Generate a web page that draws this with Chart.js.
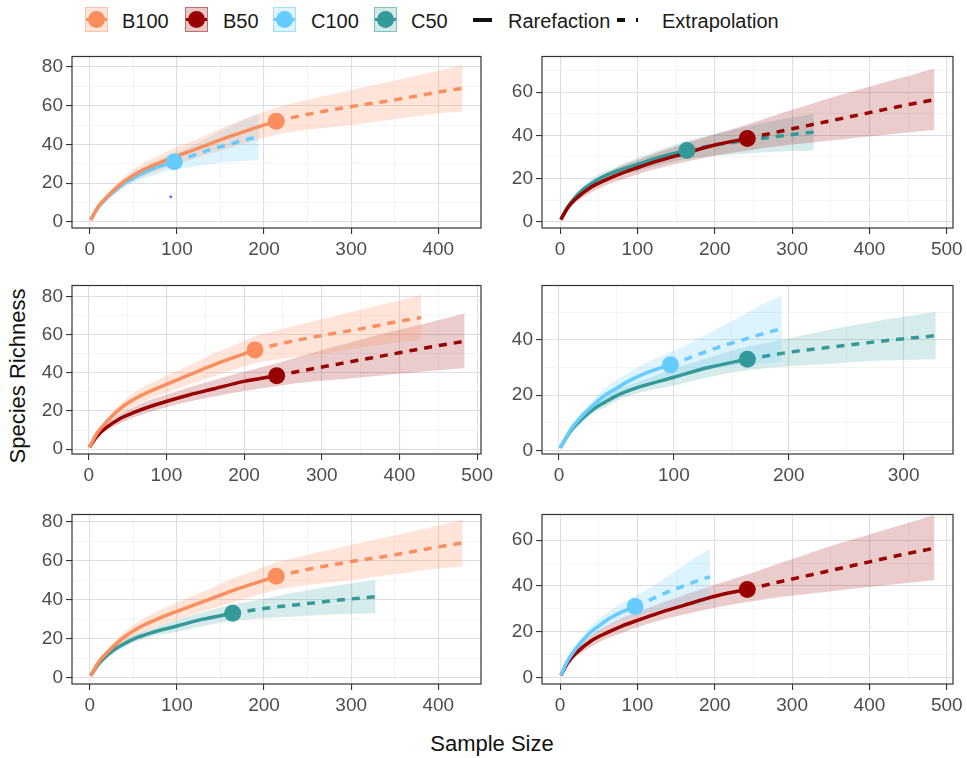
<!DOCTYPE html>
<html lang="en">
<head>
<meta charset="UTF-8" />
<title>Species Richness vs Sample Size</title>
<script src="https://cdn.jsdelivr.net/npm/chart.js"></script>
<style>
  body { margin: 0; background: #fff; font-family: Arial, "Liberation Sans", sans-serif; }
  #wrap { position: relative; width: 967px; height: 758px; overflow: hidden; background: #fff; }
  #wrap canvas { position: absolute; }
  .sw { position: absolute; top: 7px; width: 21px; height: 23px; border: 1.5px solid; }
  .sw i { position: absolute; left: 0; right: 0; top: 10px; height: 3px; }
  .sw b { position: absolute; left: 2px; top: 3px; width: 17px; height: 17px; border-radius: 50%; }
  .lt { position: absolute; top: 9px; font-size: 20px; line-height: 24px; color: #1a1a1a; }
  .title { position: absolute; font-size: 22px; color: #111; white-space: nowrap; }
</style>
</head>
<body>
<div id="wrap">
  <div class="sw" style="left:85px;border-color:rgba(255,153,102,.45);background:rgba(255,153,102,.25)"><i style="background:#FA8E5C"></i><b style="background:#FA8E5C"></b></div>
  <div class="lt" style="left:122px">B100</div>
  <div class="sw" style="left:185px;border-color:rgba(153,0,0,.45);background:rgba(153,0,0,.22)"><i style="background:#990000"></i><b style="background:#990000"></b></div>
  <div class="lt" style="left:223px">B50</div>
  <div class="sw" style="left:273px;border-color:rgba(102,204,255,.5);background:rgba(102,204,255,.22)"><i style="background:#66CCFF"></i><b style="background:#66CCFF"></b></div>
  <div class="lt" style="left:311px">C100</div>
  <div class="sw" style="left:374px;border-color:rgba(51,153,153,.5);background:rgba(51,153,153,.22)"><i style="background:#339999"></i><b style="background:#339999"></b></div>
  <div class="lt" style="left:411px">C50</div>
  <div style="position:absolute;left:473px;top:18px;width:19px;height:4px;background:#111"></div>
  <div class="lt" style="left:508px">Rarefaction</div>
  <div style="position:absolute;left:617px;top:18px;width:8px;height:4px;background:#111"></div>
  <div style="position:absolute;left:636px;top:18px;width:2px;height:4px;background:#111"></div>
  <div class="lt" style="left:662px">Extrapolation</div>

  <div class="title" style="left:18px;top:376px;transform:translate(-50%,-50%) rotate(-90deg)">Species Richness</div>
  <div class="title" style="left:492px;top:744px;transform:translate(-50%,-50%)">Sample Size</div>
</div>

<script>
// B100
const b100Size  = [1, 10, 20, 40, 60, 80, 100, 130, 160, 190, 214, 250, 300, 350, 400, 428];
const b100Rich  = [1, 8, 13, 21, 26.5, 30.5, 34, 39, 44, 48.5, 52, 55.5, 59.5, 63, 67, 69];
const b100Lower = [1, 7, 11.5, 18.5, 23, 26.5, 29.5, 34, 38, 42, 45, 47.5, 50, 53, 56, 57];
const b100Upper = [1, 9, 14.5, 23.5, 30, 34.5, 38.5, 44, 50, 55, 59, 63, 68, 73, 78, 81];
const b100Obs = 214;

// B50
const b50Size  = [1, 10, 20, 40, 60, 80, 100, 130, 160, 200, 242, 280, 320, 360, 400, 440, 484];
const b50Rich  = [1, 6.5, 10.5, 16, 19.5, 22.5, 25, 28.5, 31.5, 35.5, 38.5, 41.5, 44.5, 47.5, 50.5, 53.5, 56.5];
const b50Lower = [1, 5.5, 9, 13.5, 17, 19.5, 22, 25, 27.5, 30.5, 33, 35, 36.5, 38, 39.5, 41, 42.5];
const b50Upper = [1, 7.5, 12, 18.5, 22.5, 26, 28.5, 32.5, 36, 40.5, 45, 49.5, 54, 58.5, 62.5, 66.5, 71];
const b50Obs = 242;

// C100
const c100Size  = [1, 10, 20, 30, 40, 50, 60, 70, 80, 97, 120, 140, 160, 180, 194];
const c100Rich  = [1, 7.5, 12.5, 16.5, 20, 22.5, 25, 27, 28.7, 31, 34.5, 37.5, 40, 42.5, 44];
const c100Lower = [1, 6.5, 11, 14.5, 17.5, 20, 22, 23.5, 25, 27, 28.5, 30, 31, 31.5, 32];
const c100Upper = [1, 8.5, 14, 18.5, 22.5, 25.5, 28, 30.5, 32.5, 35.5, 40, 44.5, 49, 53.5, 56];
const c100Obs = 97;

// C50
const c50Size  = [1, 10, 20, 30, 40, 50, 70, 100, 130, 164, 200, 240, 280, 328];
const c50Rich  = [1, 7, 11.5, 15, 17.5, 19.8, 23, 26.5, 30, 33, 35.5, 37.5, 39.5, 41.5];
const c50Lower = [1, 6, 10, 13.5, 15.5, 18, 21, 23.5, 26.5, 29, 30.5, 31.5, 32.5, 33];
const c50Upper = [1, 8, 13, 16.5, 19.5, 22, 25, 29.5, 33.5, 37.5, 40.5, 44, 47, 50];
const c50Obs = 164;

// stray dot in the first panel
const strayPoint = [{ x: 93, y: 13 }];

const panelGroups = [['B100', 'C100'], ['B50', 'C50'], ['B100', 'B50'], ['C100', 'C50'], ['B100', 'C50'], ['C100', 'B50']];

const series = {
  B100: { size: b100Size, rich: b100Rich, lower: b100Lower, upper: b100Upper, obs: b100Obs, line: '#FA8E5C', band: 'rgba(255,153,102,0.25)' },
  B50:  { size: b50Size,  rich: b50Rich,  lower: b50Lower,  upper: b50Upper,  obs: b50Obs,  line: '#990000', band: 'rgba(153,0,0,0.2)' },
  C100: { size: c100Size, rich: c100Rich, lower: c100Lower, upper: c100Upper, obs: c100Obs, line: '#66CCFF', band: 'rgba(102,204,255,0.22)' },
  C50:  { size: c50Size,  rich: c50Rich,  lower: c50Lower,  upper: c50Upper,  obs: c50Obs,  line: '#339999', band: 'rgba(51,153,153,0.2)' }
};

// plot areas [left, top, right, bottom] and axis windows
const panels = [
  { area: [72, 56, 481, 228],  x: [-20.4, 449], xStep: 100, y: [-3.2, 85.4], yStep: 20 },
  { area: [542, 56, 953, 228], x: [-23.4, 508], xStep: 100, y: [-2.9, 76.5], yStep: 20 },
  { area: [72, 285, 481, 454], x: [-21.5, 505], xStep: 100, y: [-2.5, 85.7], yStep: 20 },
  { area: [542, 285, 953, 454], x: [-14.8, 343], xStep: 100, y: [-1.2, 59.6], yStep: 20 },
  { area: [72, 514, 481, 684], x: [-20.4, 449], xStep: 100, y: [-3.2, 83.6], yStep: 20 },
  { area: [542, 514, 953, 684], x: [-23.4, 508], xStep: 100, y: [-2.8, 71.2], yStep: 20 }
];

const PAD_L = 10, PAD_T = 8, PAD_R = 18, Y_W = 56, X_H = 34;
const FONT = 'Arial, "Liberation Sans", sans-serif';

const panelBorder = {
  id: 'panelBorder',
  afterDraw(chart) {
    const a = chart.chartArea, ctx = chart.ctx;
    ctx.save();
    ctx.strokeStyle = '#333333';
    ctx.lineWidth = 1.2;
    ctx.strokeRect(a.left, a.top, a.right - a.left, a.bottom - a.top);
    ctx.restore();
  }
};

function gridValues(min, max, step) {
  const out = [];
  for (let v = 0; v <= max; v += step / 2) if (v >= min) out.push(v);
  return out;
}

function makeAxis(range, step, isX) {
  const major = v => Math.abs(v % step) < 1e-9;
  return {
    type: 'linear',
    min: range[0],
    max: range[1],
    afterBuildTicks: a => { a.ticks = gridValues(range[0], range[1], step).map(v => ({ value: v })); },
    afterFit: a => {
      if (isX) { a.height = X_H; a.paddingLeft = 0; a.paddingRight = 0; }
      else { a.width = Y_W; a.paddingTop = 0; a.paddingBottom = 0; }
    },
    ticks: {
      autoSkip: false, maxRotation: 0, padding: isX ? 4 : 3, color: '#4d4d4d',
      font: { size: 19, family: FONT },
      callback: v => major(v) ? String(v) : ''
    },
    grid: {
      color: c => (c.tick && major(c.tick.value)) ? '#dedede' : '#efefef',
      lineWidth: c => (c.tick && major(c.tick.value)) ? 1.1 : 0.7,
      tickColor: c => (c.tick && major(c.tick.value)) ? '#333333' : 'rgba(0,0,0,0)',
      tickLength: 6
    },
    border: { display: false }
  };
}

function seriesDatasets(key) {
  const s = series[key];
  const k = s.size.indexOf(s.obs);
  const pts = arr => s.size.map((x, i) => ({ x, y: arr[i] }));
  const mean = pts(s.rich);
  return [
    { data: pts(s.lower), borderWidth: 0, pointRadius: 0, fill: false, order: 10, tension: 0.3 },
    { data: pts(s.upper), borderWidth: 0, pointRadius: 0, fill: '-1', backgroundColor: s.band, order: 10, tension: 0.3 },
    { data: mean.slice(0, k + 1), borderColor: s.line, borderWidth: 3.5, pointRadius: 0, fill: false, order: 2, cubicInterpolationMode: 'monotone' },
    { data: mean.slice(k), borderColor: s.line, borderWidth: 3.5, borderDash: [8, 7], pointRadius: 0, fill: false, order: 2, cubicInterpolationMode: 'monotone' },
    { data: [mean[k]], showLine: false, pointRadius: 8.5, pointBackgroundColor: s.line, pointBorderWidth: 0, order: 1 }
  ];
}

const wrap = document.getElementById('wrap');

panels.forEach((p, idx) => {
  const [l, t, r, b] = p.area;
  const cv = document.createElement('canvas');
  const w = (r - l) + PAD_L + Y_W + PAD_R;
  const h = (b - t) + PAD_T + X_H;
  cv.width = w; cv.height = h;
  cv.style.left = (l - PAD_L - Y_W) + 'px';
  cv.style.top = (t - PAD_T) + 'px';
  cv.style.width = w + 'px'; cv.style.height = h + 'px';
  wrap.appendChild(cv);

  let datasets = [];
  panelGroups[idx].forEach(key => { datasets = datasets.concat(seriesDatasets(key)); });
  if (idx === 0) {
    datasets.push({ data: strayPoint, showLine: false, pointRadius: 1.5, pointBackgroundColor: '#6f6fff', pointBorderWidth: 0, order: 0 });
  }

  new Chart(cv, {
    type: 'line',
    data: { datasets },
    options: {
      responsive: false,
      animation: false,
      devicePixelRatio: 1,
      layout: { padding: { left: PAD_L, top: PAD_T, right: PAD_R, bottom: 0 } },
      plugins: { legend: { display: false }, tooltip: { enabled: false } },
      scales: {
        x: makeAxis(p.x, p.xStep, true),
        y: makeAxis(p.y, p.yStep, false)
      }
    },
    plugins: [panelBorder]
  });
});
</script>
</body>
</html>
